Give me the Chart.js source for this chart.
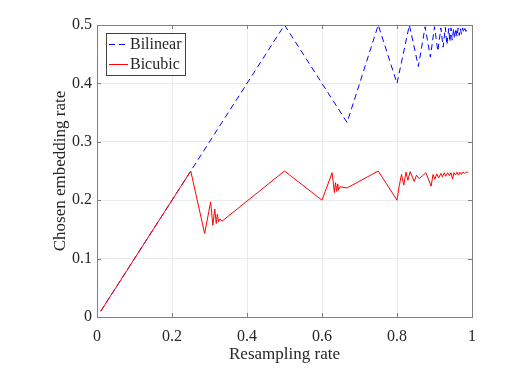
<!DOCTYPE html>
<html>
<head>
<meta charset="utf-8">
<script src="https://cdn.jsdelivr.net/npm/chart.js@4.4.1/dist/chart.umd.min.js"></script>
<style>
  body { margin: 0; background: #fff; }
  #wrap { width: 520px; height: 368px; }
  .fontwarm { font-family: "Liberation Serif", "Times New Roman", Times, "DejaVu Serif", serif;
    position: absolute; left: -999px; top: 0; }
</style>
</head>
<body>
<span class="fontwarm">Resampling rate 0.1</span>
<div id="wrap"><canvas id="rateChart" width="520" height="368"></canvas></div>
<script>
// values
const bilinearX = [0.01, 0.25, 0.5, 0.667, 0.75, 0.8, 0.833, 0.857, 0.875, 0.889, 0.9, 0.909, 0.917, 0.923,
    0.929, 0.933, 0.938, 0.941, 0.944, 0.947, 0.951, 0.953, 0.957, 0.96, 0.963, 0.966, 0.969, 0.972,
    0.975, 0.978, 0.981, 0.984, 0.987, 0.99];
const bilinearY = [0.01, 0.25, 0.5, 0.333, 0.5, 0.4, 0.5, 0.429, 0.497, 0.445, 0.497, 0.455, 0.495, 0.462,
    0.496, 0.466, 0.494, 0.471, 0.495, 0.474, 0.494, 0.476, 0.494, 0.48, 0.495, 0.482, 0.494, 0.484,
    0.495, 0.487, 0.494, 0.489, 0.495, 0.494];

const bicubicX = [0.01, 0.25, 0.287, 0.303, 0.309, 0.314, 0.318, 0.321, 0.324, 0.328, 0.333, 0.337,
    0.5, 0.6, 0.627, 0.633, 0.636, 0.639, 0.642, 0.644, 0.648, 0.667, 0.75, 0.8,
    0.806, 0.812, 0.818, 0.824, 0.829, 0.835, 0.846, 0.852, 0.859, 0.868, 0.877, 0.891, 0.896, 0.901,
    0.906, 0.911, 0.917, 0.921, 0.926, 0.93, 0.935, 0.94, 0.944, 0.948, 0.952, 0.956, 0.96, 0.964,
    0.968, 0.972, 0.976, 0.98, 0.985, 0.99];
const bicubicY = [0.01, 0.25, 0.143, 0.197, 0.157, 0.185, 0.16, 0.176, 0.163, 0.168, 0.164, 0.166,
    0.25, 0.2, 0.247, 0.213, 0.23, 0.215, 0.228, 0.217, 0.223, 0.221, 0.25, 0.2,
    0.225, 0.244, 0.226, 0.248, 0.234, 0.249, 0.232, 0.243, 0.237, 0.242, 0.247, 0.224, 0.244, 0.236,
    0.245, 0.238, 0.246, 0.24, 0.247, 0.241, 0.247, 0.242, 0.247, 0.236, 0.247, 0.243, 0.248, 0.243,
    0.248, 0.244, 0.248, 0.246, 0.248, 0.248];

const seriesNames = ['Bilinear', 'Bicubic'];
const xTitle = 'Resampling rate';
const yTitle = 'Chosen embedding rate';

const FONT = '"Liberation Serif", "Times New Roman", Times, "DejaVu Serif", serif';
const TXT = '#262626';
const AXIS = '#808080';

const toPoints = (xs, ys) => xs.map((x, i) => ({ x: x, y: ys[i] }));
const tickFmt = v => String(+Number(v).toFixed(2));

// box, inward ticks and legend drawn inside the axes like matlab
const boxPlugin = {
    id: 'matlabBox',
    afterDraw(chart) {
        const ctx = chart.ctx;
        const a = chart.chartArea;
        const xs = chart.scales.x, ys = chart.scales.y;
        ctx.save();
        ctx.strokeStyle = AXIS;
        ctx.lineWidth = 1;
        ctx.strokeRect(Math.round(a.left) + 0.5, Math.round(a.top) + 0.5,
            Math.round(a.right - a.left), Math.round(a.bottom - a.top));
        ctx.beginPath();
        xs.ticks.forEach(t => {
            const px = Math.round(xs.getPixelForValue(t.value)) + 0.5;
            ctx.moveTo(px, a.bottom); ctx.lineTo(px, a.bottom - 4);
            ctx.moveTo(px, a.top); ctx.lineTo(px, a.top + 4);
        });
        ys.ticks.forEach(t => {
            const py = Math.round(ys.getPixelForValue(t.value)) + 0.5;
            ctx.moveTo(a.left, py); ctx.lineTo(a.left + 4, py);
            ctx.moveTo(a.right, py); ctx.lineTo(a.right - 4, py);
        });
        ctx.stroke();

        // legend
        const lx = 106, ly = 33, lw = 79, lh = 42;
        ctx.fillStyle = '#fff';
        ctx.fillRect(lx, ly, lw, lh);
        ctx.strokeStyle = '#404040';
        ctx.strokeRect(lx + 0.5, ly + 0.5, lw, lh);
        const ds = chart.data.datasets;
        ctx.font = '16px ' + FONT;
        ctx.textBaseline = 'middle';
        ds.forEach((d, i) => {
            const y = ly + 11.5 + i * 20;
            ctx.strokeStyle = d.borderColor;
            ctx.lineWidth = 1;
            ctx.setLineDash(d.borderDash || []);
            ctx.beginPath();
            ctx.moveTo(lx + 3, y);
            ctx.lineTo(lx + 22, y);
            ctx.stroke();
            ctx.setLineDash([]);
            ctx.fillStyle = TXT;
            ctx.fillText(d.label, lx + 24, y);
        });
        ctx.restore();
    }
};

function drawChart() {
    new Chart(document.getElementById('rateChart').getContext('2d'), {
        type: 'line',
        data: {
            datasets: [{
                label: seriesNames[0],
                data: toPoints(bilinearX, bilinearY),
                borderColor: '#0000ff',
                borderWidth: 1,
                borderDash: [6, 4],
                pointRadius: 0,
                tension: 0,
                fill: false,
                order: 1
            }, {
                label: seriesNames[1],
                data: toPoints(bicubicX, bicubicY),
                borderColor: '#ff0000',
                borderWidth: 1,
                pointRadius: 0,
                tension: 0,
                fill: false,
                order: 0
            }]
        },
        options: {
            responsive: false,
            animation: false,
            layout: { padding: { left: 0, right: 48, top: 25, bottom: 0 } },
            plugins: {
                legend: { display: false },
                tooltip: { enabled: false }
            },
            scales: {
                x: {
                    type: 'linear',
                    min: 0, max: 1,
                    border: { display: false },
                    grid: { color: '#ebebeb', drawTicks: false },
                    ticks: { stepSize: 0.2, padding: 10, color: TXT, callback: tickFmt,
                        font: { family: FONT, size: 16 } },
                    title: { display: true, text: xTitle, color: TXT, padding: { top: 0, bottom: 3 },
                        font: { family: FONT, size: 17 } },
                    afterFit: s => { s.height = 51; }
                },
                y: {
                    min: 0, max: 0.5,
                    border: { display: false },
                    grid: { color: '#ebebeb', drawTicks: false },
                    ticks: { stepSize: 0.1, padding: 5, color: TXT, callback: tickFmt,
                        font: { family: FONT, size: 16 } },
                    title: { display: true, text: yTitle, color: TXT, padding: { top: 50, bottom: 0 },
                        font: { family: FONT, size: 17 } },
                    afterFit: s => { s.width = 97; }
                }
            }
        },
        plugins: [boxPlugin]
    });
}

// make sure the serif face is ready before the canvas draws text
document.fonts.load('16px "Liberation Serif"').then(drawChart, drawChart);
</script>
</body>
</html>
